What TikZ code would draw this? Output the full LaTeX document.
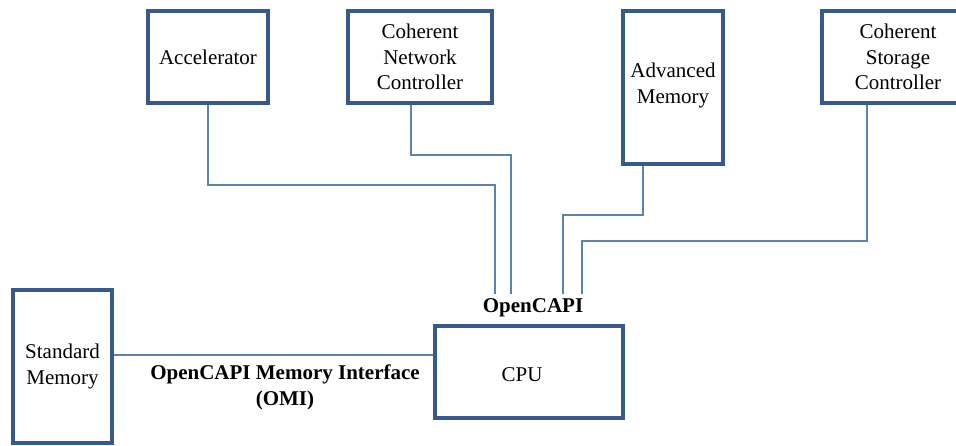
\documentclass[tikz,border=0pt]{standalone}
\usepackage{fontspec}
\setmainfont{Liberation Serif}
\definecolor{boxcol}{HTML}{36598F}
\definecolor{linecol}{HTML}{5E82AE}
\tikzset{
  x=1pt, y=-1pt,
  unit/.style={draw=boxcol, line width=3.6pt, rectangle, inner sep=0pt, align=center,
    font=\fontsize{21}{25.5}\selectfont, text=black},
  conn/.style={draw=linecol, line width=1.4pt},
  lbl/.style={inner sep=0pt, align=center, font=\fontsize{21}{25.5}\selectfont\bfseries}
}
\begin{document}
\begin{tikzpicture}
\useasboundingbox (0,0) rectangle (956,445);
\node[unit, minimum width=120pt, minimum height=92pt] (acc) at (208,57) {Accelerator};
\node[unit, minimum width=144pt, minimum height=92pt] (net) at (420,57) {Coherent\\Network\\Controller};
\node[unit, minimum width=100pt, minimum height=153pt] (adv) at (673,87.5) {Advanced\\Memory\\[-16.5pt]};
\node[unit, minimum width=152pt, minimum height=92pt] (sto) at (898,57) {Coherent\\Storage\\Controller};
\node[unit, minimum width=99pt, minimum height=153pt] (std) at (62.5,366.5) {Standard\\Memory};
\node[unit, minimum width=188pt, minimum height=92pt] (cpu) at (529,372) {\hspace*{-14pt}\raisebox{-3pt}[\height][\depth]{CPU}};
\node[lbl] (oc) at (533,308) {OpenCAPI};
\node[lbl] (omi) at (285,387.5) {OpenCAPI Memory Interface\\(OMI)};
\coordinate (e1) at (495,294);
\coordinate (e2) at (511,294);
\coordinate (e3) at (563,294);
\coordinate (e4) at (582,294);
\draw[conn] (acc.south) -- ++(0,80) -| (e1);
\draw[conn] ([xshift=-9pt]net.south) -- ++(0,50) -| (e2);
\draw[conn] ([xshift=-30pt]adv.south) -- ++(0,49) -| (e3);
\draw[conn] ([xshift=-31pt]sto.south) -- ++(0,136) -| (e4);
\draw[conn] (std.east |- 0,355) -- (cpu.west |- 0,355);
\end{tikzpicture}
\end{document}
